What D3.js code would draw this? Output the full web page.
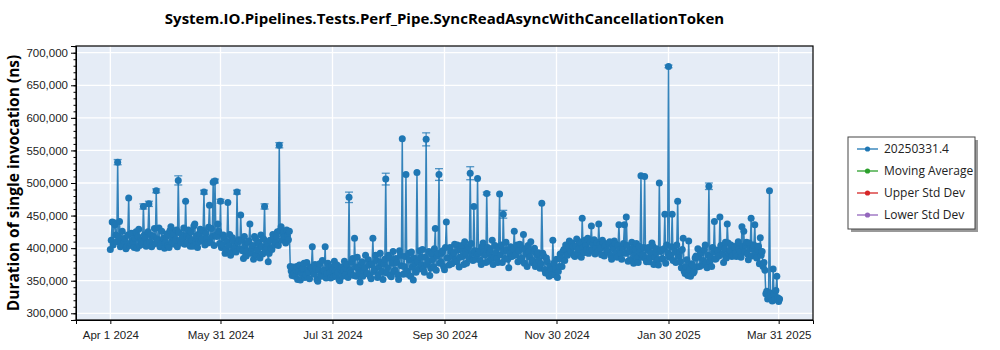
<!DOCTYPE html>
<html>
<head>
<meta charset="utf-8">
<script src="https://cdn.jsdelivr.net/npm/d3@7"></script>
<style>
	body { margin: 0; background: #fff; font-family: "Open Sans", "DejaVu Sans", sans-serif; }
	#chart-area { width: 1000px; height: 350px; }
	.axis text { font-size: 11.5px; fill: #222; }
	.axis path, .axis line { stroke: #000; }
</style>
</head>
<body>
<div id="chart-area"></div>
<script>

// --- data ---
let chartTitle = "System.IO.Pipelines.Tests.Perf_Pipe.SyncReadAsyncWithCancellationToken";
let yLabel = "Duration of single invocation (ns)";

// two runs per day starting at this date (midnight run, noon run)
let firstDay = "2024-04-01";

// midnight run, in thousands of ns
let durationK = [
	398, 440, 439, 420, 532, 441, 409, 404, 415, 402,
	477, 408, 412, 401, 425, 418, 404, 410, 464, 416,
	407, 468, 420, 405, 430, 488, 411, 402, 426, 415,
	409, 422, 401, 433, 417, 406, 428, 504, 412, 420,
	431, 472, 408, 416, 425, 403, 437, 419, 410, 429,
	414, 486, 423, 408, 466, 430, 501, 503, 418, 426,
	472, 405, 415, 398, 470, 421, 394, 411, 402, 486,
	413, 451, 396, 418, 388, 409, 437, 400, 383, 415,
	397, 406, 420, 391, 464, 402, 379, 412, 398, 418,
	409, 425, 558, 433, 421, 417, 428, 413, 372, 358,
	361, 366, 352, 374, 361, 369, 355, 378, 363, 371,
	402, 360, 368, 349, 376, 357, 365, 402, 361, 372,
	354, 367, 380, 358, 363, 350, 371, 366, 359, 375,
	478, 362, 384, 415, 357, 370, 348, 379, 366, 389,
	361, 374, 353, 415, 368, 381, 359, 392, 364, 376,
	506, 370, 385, 356, 395, 366, 378, 352, 389, 568,
	372, 513, 360, 382, 394, 351, 377, 516, 368, 386,
	398, 363, 567, 380, 358, 391, 372, 430, 388, 513,
	379, 396, 367, 440, 385, 401, 376, 393, 382, 405,
	371, 398, 388, 410, 377, 402, 515, 392, 464, 383,
	507, 396, 375, 408, 389, 484, 380, 399, 412, 386,
	393, 378, 483, 405, 452, 384, 397, 370, 402, 388,
	426, 391, 379, 406, 385, 421, 398, 372, 395, 410,
	381, 400, 376, 393, 369, 469, 388, 362, 379, 357,
	366, 412, 359, 383, 364, 391, 372, 398, 405, 389,
	411, 395, 402, 387, 414, 399, 408, 446, 393, 404,
	415, 397, 434, 406, 391, 409, 437, 400, 412, 388,
	405, 394, 410, 383, 399, 407, 386, 436, 392, 401,
	436, 448, 380, 396, 409, 377, 398, 385, 403, 511,
	390, 510, 379, 401, 386, 408, 375, 394, 382, 500,
	397, 383, 452, 405, 679, 389, 452, 401, 378, 472,
	395, 370, 415, 361, 382, 411, 357, 374, 364, 388,
	399, 372, 393, 381, 405, 370, 495, 386, 401, 441,
	384, 396, 448, 402, 378, 409, 437, 392, 405, 389,
	401, 387, 410, 395, 433, 426, 404, 391, 408, 446,
	399, 436, 385, 403, 416, 395, 378, 330, 322, 488,
	325, 368, 321, 357, 318
];

// noon run, in thousands of ns
let durationNoonK = [
	412, 405, 436, 410, 418, 402, 426, 411, 399, 420,
	404, 423, 408, 415, 400, 429, 412, 406, 420, 403,
	425, 410, 402, 418, 407, 414, 431, 405, 412, 400,
	418, 404, 427, 410, 421, 413, 402, 424, 408, 415,
	406, 419, 428, 403, 412, 434, 409, 401, 423, 411,
	427, 405, 414, 432, 409, 418, 404, 420, 437, 407,
	401, 420, 392, 410, 404, 389, 416, 401, 394, 409,
	399, 412, 384, 405, 396, 411, 392, 404, 418, 390,
	410, 385, 402, 414, 395, 407, 392, 400, 421, 405,
	418, 404, 427, 412, 425, 408, 419, 426, 365, 371,
	357, 372, 364, 351, 368, 377, 359, 366, 353, 370,
	364, 375, 352, 367, 359, 381, 366, 354, 377, 362,
	371, 356, 365, 374, 352, 368, 357, 380, 369, 355,
	366, 379, 358, 371, 386, 362, 375, 357, 370, 361,
	382, 357, 376, 364, 389, 355, 371, 378, 352, 383,
	362, 389, 358, 377, 364, 384, 359, 396, 373, 360,
	387, 365, 392, 357, 371, 385, 363, 379, 396, 374,
	368, 386, 375, 395, 369, 382, 399, 366, 392, 377,
	392, 372, 401, 385, 374, 394, 388, 406, 379, 397,
	386, 404, 375, 392, 399, 384, 407, 381, 396, 390,
	392, 381, 403, 395, 378, 401, 393, 385, 375, 404,
	384, 401, 390, 378, 396, 409, 383, 392, 387, 399,
	389, 405, 396, 382, 400, 377, 391, 404, 386, 378,
	395, 372, 389, 381, 376, 392, 367, 385, 361, 372,
	359, 377, 368, 355, 372, 384, 395, 381, 390, 402,
	396, 408, 389, 403, 392, 410, 386, 401, 412, 397,
	392, 409, 398, 413, 401, 395, 405, 390, 408, 403,
	396, 408, 389, 402, 411, 392, 404, 398, 383, 407,
	392, 404, 395, 382, 400, 389, 407, 378, 394, 386,
	401, 384, 397, 379, 392, 403, 386, 399, 374, 395,
	384, 399, 377, 393, 386, 402, 381, 394, 405, 387,
	379, 398, 365, 372, 358, 367, 376, 362, 385, 371,
	386, 392, 374, 398, 377, 389, 380, 372, 394, 383,
	397, 388, 404, 391, 399, 385, 408, 396, 387, 402,
	392, 405, 398, 386, 403, 394, 409, 382, 399, 388,
	405, 391, 398, 376, 389, 372, 366, 334, 326, 331,
	319, 329, 335, 324, 322
];

// midnight runs with a visible error bar: day index and +/- error (thousands of ns)
let errorDays = [4, 18, 21, 25, 37, 51, 57, 60, 69, 84, 92, 130, 150, 172, 179, 196, 205, 214, 304, 326];
let errorK    = [4, 4, 4, 3, 7, 3, 3, 3, 3, 4, 4, 8, 9, 10, 9, 10, 2, 6, 2, 5];

let xTickDates = ["2024-04-01", "2024-05-31", "2024-07-31", "2024-09-30", "2024-11-30", "2025-01-30", "2025-03-31"];
let yTicks = [300000, 350000, 400000, 450000, 500000, 550000, 600000, 650000, 700000];

let legendLabels = ["20250331.4", "Moving Average", "Upper Std Dev", "Lower Std Dev"];
let legendColors = ["#1f77b4", "#2ca02c", "#d62728", "#9467bd"];


class LineChart {

	constructor(parentElement) {
		this.parentElement = parentElement;
		this.initVis();
	}

	initVis() {
		let vis = this;

		vis.margin = {top: 46, right: 187, bottom: 30, left: 76};
		vis.width = 1000 - vis.margin.left - vis.margin.right;
		vis.height = 350 - vis.margin.top - vis.margin.bottom;

		vis.root = d3.select("#" + vis.parentElement).append("svg")
			.attr("width", 1000)
			.attr("height", 350);

		vis.svg = vis.root.append("g")
			.attr("transform", "translate(" + vis.margin.left + "," + vis.margin.top + ")");

		let parseDay = d3.timeParse("%Y-%m-%d");
		vis.start = parseDay(firstDay);
		vis.ticks = xTickDates.map(parseDay);

		vis.wrangleData();
	}

	wrangleData() {
		let vis = this;

		// interleave the two daily runs in time order
		vis.displayData = [];
		durationK.forEach((v, i) => {
			vis.displayData.push({date: d3.timeHour.offset(vis.start, i * 24), value: v * 1000, err: 0});
			vis.displayData.push({date: d3.timeHour.offset(vis.start, i * 24 + 12), value: durationNoonK[i] * 1000, err: 0});
		});
		errorDays.forEach((d, i) => { vis.displayData[d * 2].err = errorK[i] * 1000; });

		vis.updateVis();
	}

	updateVis() {
		let vis = this;

		let first = vis.start, last = d3.timeDay.offset(vis.start, durationK.length - 1);
		let pad = 18.7 * 864e5;

		vis.x = d3.scaleTime()
			.domain([new Date(first.getTime() - pad), new Date(last.getTime() + pad)])
			.range([0, vis.width]);

		vis.y = d3.scaleLinear()
			.domain([289700, 710300])
			.range([vis.height, 0]);

		// background + grid
		vis.svg.append("rect")
			.attr("width", vis.width)
			.attr("height", vis.height)
			.attr("fill", "#e5ecf6");

		vis.svg.append("g").selectAll("line")
			.data(yTicks)
			.enter().append("line")
			.attr("x1", 0).attr("x2", vis.width)
			.attr("y1", d => vis.y(d)).attr("y2", d => vis.y(d))
			.attr("stroke", "#fff").attr("stroke-width", 1.3);

		vis.svg.append("g").selectAll("line")
			.data(vis.ticks)
			.enter().append("line")
			.attr("x1", d => vis.x(d)).attr("x2", d => vis.x(d))
			.attr("y1", 0).attr("y2", vis.height)
			.attr("stroke", "#fff").attr("stroke-width", 1.3);

		// axes
		vis.xAxis = d3.axisBottom(vis.x)
			.tickValues(vis.ticks)
			.tickFormat(d3.timeFormat("%b %-d %Y"))
			.tickSizeOuter(0)
			.tickSize(4);

		vis.yAxis = d3.axisLeft(vis.y)
			.tickValues(yTicks)
			.tickFormat(d3.format(","))
			.tickSizeOuter(0)
			.tickSize(5);

		vis.yMinor = d3.axisLeft(vis.y)
			.ticks(42)
			.tickFormat("")
			.tickSizeOuter(0)
			.tickSize(2.5);

		vis.svg.append("g")
			.attr("class", "x-axis axis")
			.attr("transform", "translate(0," + vis.height + ")")
			.call(vis.xAxis)
			.selectAll("text").attr("dy", "1.05em");

		vis.svg.append("g")
			.attr("class", "y-axis axis")
			.call(vis.yMinor);

		vis.svg.append("g")
			.attr("class", "y-axis axis")
			.call(vis.yAxis);

		// series
		let blue = legendColors[0];
		let withErr = vis.displayData.filter(d => d.err > 0);

		vis.svg.append("path")
			.datum(vis.displayData)
			.attr("fill", "none")
			.attr("stroke", blue)
			.attr("stroke-width", 1.5)
			.attr("stroke-opacity", 0.9)
			.attr("d", d3.line().x(d => vis.x(d.date)).y(d => vis.y(d.value)));

		let eb = vis.svg.append("g").attr("stroke", blue).attr("stroke-width", 1.3).attr("stroke-opacity", 0.75);
		eb.selectAll(".err")
			.data(withErr)
			.enter().append("line")
			.attr("x1", d => vis.x(d.date)).attr("x2", d => vis.x(d.date))
			.attr("y1", d => vis.y(d.value - d.err)).attr("y2", d => vis.y(d.value + d.err));
		[-1, 1].forEach(s => {
			eb.selectAll(".cap" + s)
				.data(withErr)
				.enter().append("line")
				.attr("x1", d => vis.x(d.date) - 4).attr("x2", d => vis.x(d.date) + 4)
				.attr("y1", d => vis.y(d.value + s * d.err)).attr("y2", d => vis.y(d.value + s * d.err));
		});

		vis.svg.selectAll(".dot")
			.data(vis.displayData)
			.enter().append("circle")
			.attr("class", "dot")
			.attr("cx", d => vis.x(d.date))
			.attr("cy", d => vis.y(d.value))
			.attr("r", 3.5)
			.attr("fill", blue);

		// frame
		vis.svg.append("rect")
			.attr("width", vis.width)
			.attr("height", vis.height)
			.attr("fill", "none")
			.attr("stroke", "#000")
			.attr("stroke-width", 1.2);

		// title + y label
		vis.root.append("text")
			.attr("x", vis.margin.left + vis.width / 2)
			.attr("y", 24)
			.attr("text-anchor", "middle")
			.attr("font-size", 15)
			.attr("font-weight", "bold")
			.text(chartTitle);

		vis.root.append("text")
			.attr("transform", "translate(19," + (vis.margin.top + vis.height / 2) + ") rotate(-90)")
			.attr("text-anchor", "middle")
			.attr("font-size", 15.5)
			.attr("font-weight", "bold")
			.text(yLabel);

		// legend
		let lg = vis.root.append("g").attr("transform", "translate(848,137)");
		lg.append("rect")
			.attr("x", 3).attr("y", 3).attr("width", 127).attr("height", 92)
			.attr("fill", "#999");
		lg.append("rect")
			.attr("width", 127).attr("height", 92)
			.attr("fill", "#fff").attr("stroke", "#444");

		let item = lg.selectAll(".item")
			.data(legendLabels)
			.enter().append("g")
			.attr("transform", (d, i) => "translate(0," + (12 + i * 22) + ")");
		item.append("line")
			.attr("x1", 9).attr("x2", 30)
			.attr("stroke", (d, i) => legendColors[i]).attr("stroke-width", 1.3);
		item.append("circle")
			.attr("cx", 19.5).attr("r", 2.6)
			.attr("fill", (d, i) => legendColors[i]);
		item.append("text")
			.attr("x", 36).attr("dy", "0.35em")
			.attr("font-size", 12)
			.attr("fill", "#222")
			.text(d => d);
	}
}

new LineChart("chart-area");

</script>
</body>
</html>
